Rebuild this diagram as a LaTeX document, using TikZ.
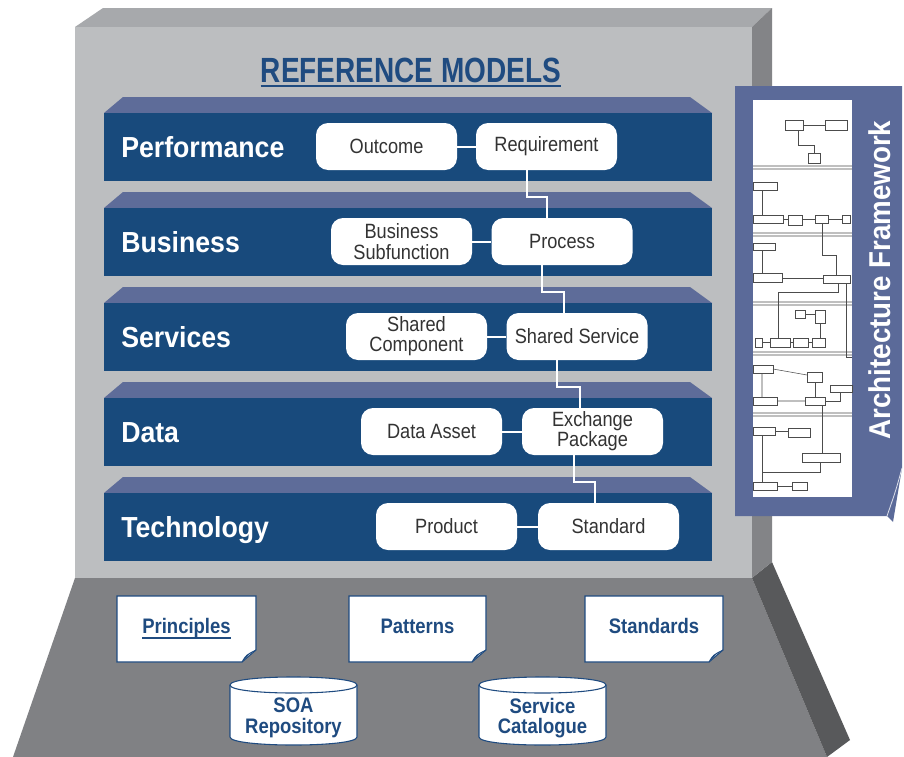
\documentclass[tikz,border=0pt]{standalone}
\usepackage{fontspec}
\setmainfont{Liberation Sans}
\newfontfamily\bandfont[FakeStretch=0.92]{Liberation Sans}
\newfontfamily\titlefont[FakeStretch=0.8]{Liberation Sans}
\newfontfamily\boxfont[FakeStretch=0.88]{Liberation Sans}
\usetikzlibrary{calc}
\definecolor{frontg}{HTML}{BCBEC0}
\definecolor{topg}{HTML}{A7A9AC}
\definecolor{sideg}{HTML}{838487}
\definecolor{platg}{HTML}{808184}
\definecolor{darkg}{HTML}{58595B}
\definecolor{bandf}{HTML}{184A7C}
\definecolor{bandt}{HTML}{5E6C99}
\definecolor{panelc}{HTML}{5B6A99}
\definecolor{navy}{HTML}{1F4B80}
\definecolor{boxtxt}{HTML}{333333}
\begin{document}
\begin{tikzpicture}[x=0.75pt,y=-0.75pt,
  bandlabel/.style={anchor=base west,text=white,inner sep=0,
    font=\bandfont\bfseries\fontsize{21.75}{24}\selectfont},
  item/.style={fill=white,rounded corners=9pt,minimum width=105.75pt,
    minimum height=35.25pt,inner sep=0,align=center,text=boxtxt,
    font=\boxfont\fontsize{15.5}{15.2}\selectfont},
  conn/.style={draw=white,line width=1.5pt},
  paper/.style={fill=white,draw=navy,line width=0.8pt},
  btxt/.style={text=navy,inner sep=0,align=center,
    font=\boxfont\bfseries\fontsize{15.75}{15.5}\selectfont},
  mini/.style={draw=black!70,line width=0.4pt},
  minibox/.style={draw=black!70,fill=white,line width=0.4pt}]
\useasboundingbox (0,0) rectangle (904,757);
\fill[white] (0,0) rectangle (904,757);
% platform
\fill[platg] (75,578) -- (752,578) -- (827,757) -- (13,757) -- cycle;
\fill[darkg] (752,578) -- (772,562) -- (850,740) -- (827,757) -- cycle;
% box
\fill[topg] (75,27) -- (103,8) -- (772,8) -- (752,27) -- cycle;
\fill[sideg] (752,27) -- (772,8) -- (772,562) -- (752,578) -- cycle;
\fill[frontg] (75,27) rectangle (752,578);
% title
\node[anchor=base,inner sep=0,text=navy,font=\titlefont\bfseries\fontsize{26.25}{28}\selectfont] (title) at (411,82) {REFERENCE MODELS};
\draw[navy,line width=2.2pt] ($(title.base west)+(0,4)$) -- ($(title.base east)+(0,4)$);
% bands
\foreach \i in {0,...,4}{
  \pgfmathsetmacro\T{113+95*\i}
  \fill[bandt] (104,\T) -- (123,\T-16) -- (690,\T-16) -- (712,\T) -- cycle;
  \fill[bandf] (104,\T) rectangle (712,\T+68);
}
\node[bandlabel] (lperf) at (121,157) {Performance};
\node[bandlabel] (lbus) at (121,252) {Business};
\node[bandlabel] (lserv) at (121,347) {Services};
\node[bandlabel] (ldata) at (121,442) {Data};
\node[bandlabel] (ltech) at (121,537) {Technology};
% items
\node[item] (outcome) at (386.5,146.5) {Outcome};
\node[item] (req) at (546.5,146.5) {Requirement};
\node[item] (subfn) at (401.5,241.5) {Business\\Subfunction};
\node[item] (proc) at (562,241.5) {Process};
\node[item] (scomp) at (416.5,336.5) {Shared\\Component};
\node[item] (sserv) at (577,336.5) {Shared Service};
\node[item] (dasset) at (431.5,431.5) {Data Asset};
\node[item] (exch) at (592.5,431.5) {Exchange\\Package};
\node[item] (prod) at (446.5,526.5) {Product};
\node[item] (std) at (608.5,526.5) {Standard};
% connectors
\draw[conn] (outcome) -- (req);
\draw[conn] (subfn) -- (proc);
\draw[conn] (scomp) -- (sserv);
\draw[conn] (dasset) -- (exch);
\draw[conn] (prod) -- (std);
\draw[conn] ($(req.south west)+(51,0)$) -- ++(0,27) -| ($(proc.north west)+(56,0)$);
\draw[conn] ($(proc.south west)+(51,0)$) -- ++(0,27) -| ($(sserv.north west)+(58,0)$);
\draw[conn] ($(sserv.south west)+(51,0)$) -- ++(0,27) -| ($(exch.north west)+(58,0)$);
\draw[conn] ($(exch.south west)+(52,0)$) -- ++(0,27) -| ($(std.north west)+(57,0)$);
% papers
\foreach \xa/\xb in {117/256, 349/486, 585/723}{
  \path[paper] (\xa,596) -- (\xb,596) -- (\xb,650) -- (\xb-14,662) -- (\xa,662) -- cycle;
  \filldraw[fill=black!12,draw=navy,line width=0.6pt] (\xb-14,662) .. controls (\xb-10,655) .. (\xb,650) -- (\xb-7,654) -- cycle;
}
\node[btxt,anchor=base] (princ) at (186.5,633) {Principles};
\draw[navy,line width=1.6pt] ($(princ.base west)+(0,5)$) -- ($(princ.base east)+(0,5)$);
\node[btxt,anchor=base] (patt) at (417.5,633) {Patterns};
\node[btxt,anchor=base] (stds) at (654,633) {Standards};
% cylinders
\foreach \xa/\xb in {230/357, 479/606}{
  \path[paper] (\xa,685) -- (\xa,737) .. controls (\xa,747.7) and (\xb,747.7) .. (\xb,737) -- (\xb,685) .. controls (\xb,674.3) and (\xa,674.3) .. (\xa,685) -- cycle;
  \draw[navy,line width=0.8pt] (\xa,685) .. controls (\xa,695.7) and (\xb,695.7) .. (\xb,685);
}
\node[btxt] (soa) at (293.5,718) {SOA\\Repository};
\node[btxt] (scat) at (542.5,718) {Service\\Catalogue};
% architecture framework panel
\fill[panelc] (735,86) -- (902,86) -- (902,468) -- (893,522) -- (887,516) -- (735,516) -- cycle;
\draw[white!80!panelc,line width=0.6pt] (902,468) .. controls (896,490) .. (887,516);
\fill[white] (753,100) rectangle (852,497);
\foreach \y in {167,234,303,353,414}{
  \fill[black!25] (753,\y-2.5) rectangle (852,\y+2.5);
  \draw[white,line width=0.6pt] (753,\y) -- (852,\y);
}
\foreach \xa/\ya/\xb/\yb in {785/120/803/130, 825/120/847/130, 808/153/820/163,
  753/182/777/190, 753/215/783/223, 788/215/802/225, 815/215/828/223, 842/215/850/223,
  753/243/775/250, 753/273/782/282, 823/275/850/283,
  795/310/805/318, 815/310/825/323, 755/338/762/347, 770/338/790/347, 793/338/808/347, 812/338/825/347,
  753/365/773/373, 807/372/822/382, 830/385/852/392, 753/397/777/405, 805/397/825/405,
  753/427/775/435, 788/428/810/437, 802/453/840/462, 753/482/777/490, 792/482/807/490}{
  \path[minibox] (\xa,\ya) rectangle (\xb,\yb);
}
\draw[mini] (803,125) -- (825,125);
\draw[mini] (798,130) -- (798,145) -- (814,145) -- (814,153);
\draw[mini] (762,190) -- (762,215);
\draw[mini] (783,219) -- (788,219) (802,219) -- (815,219) (828,219) -- (842,219);
\draw[mini] (822,223) -- (822,255) -- (836,255) -- (836,275);
\draw[mini] (762,250) -- (762,273);
\draw[mini] (782,278) -- (823,278);
\draw[mini] (838,283) -- (838,292) -- (778,292) -- (778,338);
\draw[mini] (846,283) -- (846,357) -- (852,357);
\draw[mini] (805,314) -- (815,314) (820,323) -- (820,338);
\draw[mini] (762,342) -- (770,342) (790,342) -- (793,342) (808,342) -- (812,342);
\draw[mini] (773,369) -- (807,375) (762,373) -- (762,397) (777,401) -- (805,401);
\draw[mini] (815,382) -- (815,397) (825,401) -- (840,401) -- (840,392);
\draw[mini] (775,431) -- (788,431) (762,435) -- (762,482) (777,486) -- (792,486);
\draw[mini] (762,472) -- (820,472) -- (820,462) (822,405) -- (822,453);
\node[rotate=90,text=white,inner sep=0,font=\bandfont\bfseries\fontsize{22.6}{24}\selectfont] (archfw) at (880,280) {Architecture Framework};
\end{tikzpicture}
\end{document}
